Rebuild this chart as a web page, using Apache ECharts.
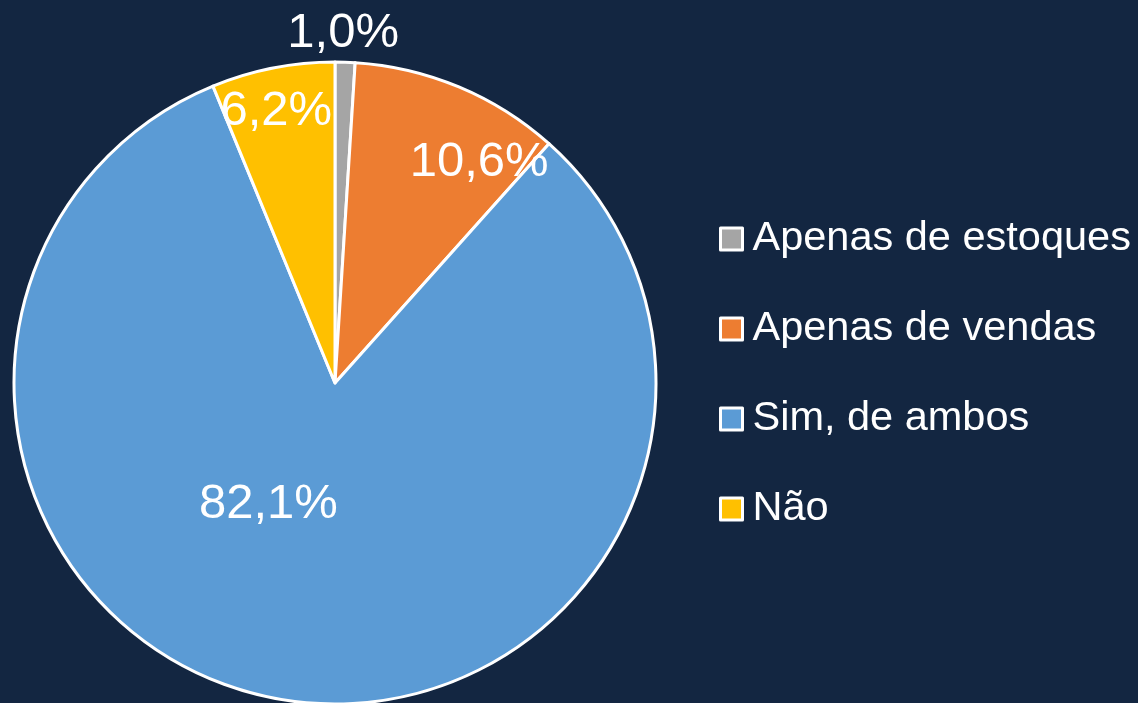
<!DOCTYPE html>
<html>
<head>
<meta charset="utf-8">
<script src="https://cdn.jsdelivr.net/npm/echarts@6/dist/echarts.min.js"></script>
<style>
  html, body { margin: 0; padding: 0; background: #132641; }
  #chart { width: 1138px; height: 703px; }
</style>
</head>
<body>
<div id="chart"></div>
<script>
// categorias e valores (%)
const categories = ["Apenas de estoques", "Apenas de vendas", "Sim, de ambos", "Não"];
const values = [1.0, 10.6, 82.1, 6.2];
const colors = ["#A5A5A5", "#ED7D31", "#5B9BD5", "#FFC000"];
// deslocamento dos rótulos em relação à posição "inside"
const labelShift = [[3, -186], [81, -70], [-39, -40], [-27, -111]];

const chart = echarts.init(document.getElementById("chart"));

const option = {
  backgroundColor: "#132641",
  animation: false,
  legend: {
    orient: "vertical",
    left: 714,
    top: 213,
    itemWidth: 22,
    itemHeight: 22,
    itemGap: 48,
    icon: "rect",
    itemStyle: { borderColor: "#ffffff", borderWidth: 3 },
    textStyle: {
      color: "#ffffff",
      fontSize: 41.5,
      padding: [0, 0, 0, 5],
      fontFamily: "Liberation Sans, Arial, sans-serif"
    },
    data: categories
  },
  series: [
    {
      type: "pie",
      center: [335, 383],
      radius: 321,
      startAngle: 90,
      clockwise: true,
      itemStyle: { borderColor: "#ffffff", borderWidth: 3 },
      label: {
        show: true,
        position: "inside",
        color: "#ffffff",
        fontSize: 49,
        fontFamily: "Liberation Sans, Arial, sans-serif",
        formatter: p => p.value.toFixed(1).replace(".", ",") + "%"
      },
      labelLayout: p => ({ dx: labelShift[p.dataIndex][0], dy: labelShift[p.dataIndex][1] }),
      labelLine: { show: false },
      emphasis: { disabled: true },
      data: categories.map((name, i) => ({
        name: name,
        value: values[i],
        itemStyle: { color: colors[i] }
      }))
    }
  ]
};

chart.setOption(option);
</script>
</body>
</html>
